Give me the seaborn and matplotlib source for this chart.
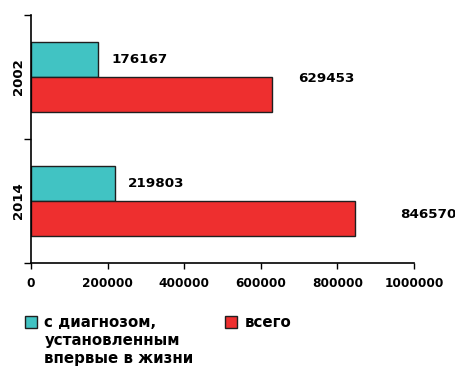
import matplotlib
matplotlib.use("Agg")
import matplotlib.pyplot as plt
import matplotlib.patches as mpatches
import seaborn as sns
import pandas as pd

years = ["2002", "2014"]
first_diag = [176167, 219803]
total = [629453, 846570]
series_names = ["с диагнозом, установленным впервые в жизни", "всего"]
legend_lines = ["с диагнозом,", "установленным", "впервые в жизни"]
x_ticks = [0, 200000, 400000, 600000, 800000, 1000000]

teal = "#41C3C3"
red = "#EE2F2F"
edge = "#1f1f1f"

df = pd.DataFrame({
    "year": years * 2,
    "value": first_diag + total,
    "series": [series_names[0]] * len(years) + [series_names[1]] * len(years),
})

sns.set_style("white")
plt.rcParams["font.family"] = ["DejaVu Sans"]
plt.rcParams["font.weight"] = "bold"
plt.rcParams["text.color"] = "black"
plt.rcParams["xtick.color"] = "black"
plt.rcParams["ytick.color"] = "black"

fig = plt.figure(figsize=(4.55, 3.69), dpi=100)
ax = fig.add_axes([31 / 455, 1 - 263 / 369, (414 - 31) / 455, (263 - 15) / 369])

sns.barplot(data=df, x="value", y="year", hue="series", orient="h",
            palette=[teal, red], width=0.57, edgecolor=edge, linewidth=1.0,
            saturation=1, ax=ax, legend=False)

ax.set_xlim(0, 1000000)
ax.set_ylim(1.5, -0.5)
ax.set_xticks(x_ticks)
ax.set_xticklabels([str(t) for t in x_ticks], fontsize=8.7, fontweight="bold", color="black")
ax.set_yticks([0, 1])
ax.set_yticklabels(years, rotation=90, va="center", fontsize=9.5, fontweight="bold", color="black")
ax.set_yticks([-0.5, 0.5, 1.5], minor=True)
ax.tick_params(axis="y", which="major", length=0, pad=4)
ax.tick_params(axis="y", which="minor", length=5, width=1, color="black", direction="out", left=True)
ax.tick_params(axis="x", which="major", length=4, width=1, color="black", direction="out", pad=6, bottom=True)
ax.set_xlabel("")
ax.set_ylabel("")
for s in ["top", "right"]:
    ax.spines[s].set_visible(False)
for s in ["left", "bottom"]:
    ax.spines[s].set_color("black")
    ax.spines[s].set_linewidth(1.2)

# value labels (offsets in points)
offsets = {(0, 0): (9, 0), (0, 1): (9, 0), (1, 0): (19, 12), (1, 1): (32, 3)}
for si, cont in enumerate(ax.containers):
    for yi, bar in enumerate(cont):
        w = bar.get_width()
        yc = bar.get_y() + bar.get_height() / 2
        dx, dy = offsets[(si, yi)]
        ax.annotate(f"{int(round(w))}", xy=(w, yc), xytext=(dx, dy),
                    textcoords="offset points", ha="left", va="center",
                    fontsize=9.7, fontweight="bold", color="black")

handles = [mpatches.Patch(facecolor=teal, edgecolor=edge, linewidth=1),
           mpatches.Patch(facecolor=red, edgecolor=edge, linewidth=1)]
leg = fig.legend(handles, [legend_lines[0], "всего"], ncol=2, frameon=False,
                 loc="upper left", bbox_to_anchor=(25 / 455, 1 - 315 / 369),
                 prop={"size": 10.8, "weight": "bold"}, handlelength=0.8, handleheight=0.8,
                 handletextpad=0.5, columnspacing=4.55, borderaxespad=0, borderpad=0,
                 labelcolor="black")

fig.canvas.draw()
txt = leg.get_texts()[0]
bb = txt.get_window_extent()
x0 = bb.x0 / fig.bbox.width
for i, line in enumerate(legend_lines[1:], start=1):
    fig.text(x0, (bb.y0 + bb.height / 2 - 18 * i) / fig.bbox.height, line,
             fontsize=10.8, fontweight="bold", va="center", ha="left", color="black")

fig.savefig("out.png", dpi=100)
